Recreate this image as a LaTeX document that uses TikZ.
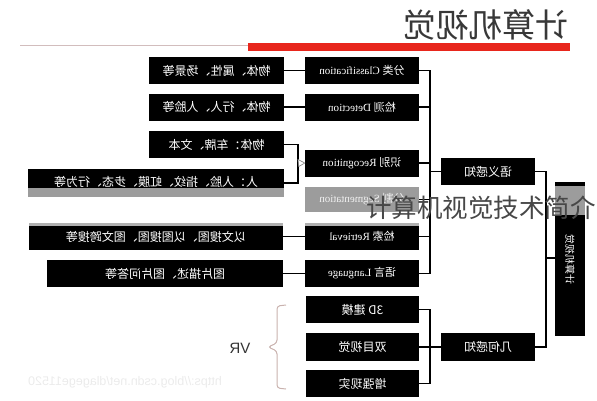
\documentclass[tikz,border=0pt]{standalone}
\usepackage{fontspec}
\setmainfont{Liberation Serif}
\newfontfamily\cjk{Noto Sans CJK SC}
\newfontfamily\sansf{Liberation Sans}
\newcommand\mir[1]{\scalebox{-1}[1]{#1}}
\definecolor{redbar}{HTML}{E8261C}
\definecolor{thinline}{HTML}{D2BDBD}
\definecolor{veil}{HTML}{9C9C9C}
\definecolor{bracecol}{HTML}{C9B2AE}
\begin{document}
\begin{tikzpicture}[x=1pt,y=-1pt,
  box/.style={fill=black,text=white,inner sep=0pt,minimum height=27pt,font=\fontsize{11}{13}\selectfont},
  desc/.style={box,font=\cjk\fontsize{12}{14}\selectfont},
  conn/.style={draw=black,line width=1.4pt},
  veilbox/.style={fill=veil,draw=none}]
\useasboundingbox (0,0) rectangle (597,400);
% title and rule
\node[font=\cjk\fontsize{33}{35}\selectfont,text=black!78,inner sep=0pt] (title) at (486,25) {\mir{计算机视觉}};
\draw[thinline,line width=1pt] (20,45.5) -- (250,45.5);
\fill[redbar] (248,43) rectangle (570,51);
% middle column
\node[box,minimum width=114pt] (cls) at (362,70.5) {\mir{{\cjk 分类} Classification}};
\node[box,minimum width=114pt] (det) at (362,107) {\mir{{\cjk 检测} Detection}};
\node[box,minimum width=114pt] (rec) at (362,163) {\mir{{\cjk 识别} Recognition}};
\node[box,minimum width=114pt,minimum height=25pt,fill=veil,text=white!85!veil] (seg) at (362,199.5) {\mir{{\cjk 分割} Segmentation}};
\node[box,minimum width=114pt] (ret) at (362,236.5) {\mir{{\cjk 检索} Retrieval}};
\node[box,minimum width=114pt] (lan) at (362,273.5) {\mir{{\cjk 语言} Language}};
% descriptions
\node[desc,minimum width=135pt] (d1) at (216.5,70.5) {\mir{物体、属性、场景等}};
\node[desc,minimum width=135pt] (d2) at (216.5,107) {\mir{物体、行人、人脸等}};
\node[desc,minimum width=135pt] (d3a) at (216.5,144.5) {\mir{物体：车牌、文本}};
\node[desc,minimum width=256pt,minimum height=28pt] (d3b) at (156,183) {\raisebox{4pt}{\mir{人：人脸、指纹、虹膜、步态、行为等}}};
\node[desc,minimum width=254pt] (d5) at (156,236.5) {\mir{以文搜图、以图搜图、图文跨搜等}};
\node[desc,minimum width=236pt] (d6) at (165,273.5) {\mir{图片描述、图片问答等}};
% geometric group
\node[desc,minimum width=113pt] (b3d) at (362.5,309.5) {\mir{3D 建模}};
\node[desc,minimum width=113pt,minimum height=28pt] (bino) at (362.5,347) {\mir{双目视觉}};
\node[desc,minimum width=113pt] (ar) at (362.5,383.5) {\mir{增强现实}};
% right column
\node[desc,minimum width=94pt] (sem) at (488,171.5) {\mir{语义感知}};
\node[desc,minimum width=94pt,minimum height=28pt] (geo) at (488,347) {\mir{几何感知}};
\node[box,minimum width=30pt,minimum height=154pt,font=\cjk\fontsize{10}{10}\selectfont] (cv) at (570,259) {\mir{\rotatebox{90}{计算机视觉}}};
% veil band
\fill[veil] (28,188) rectangle (284,197);
\fill[veil!80!white] (29,222.5) rectangle (283,226);
\fill[veil!80!white] (305,222.5) rectangle (419,226);
\fill[veil] (555,186) rectangle (585,215);
% connectors
\draw[conn] (d1.east) -- (cls.west);
\draw[conn] (d2.east) -- (det.west);
\draw[conn] (d5.east) -- (ret.west);
\draw[conn] (d6.east) -- (lan.west);
\coordinate (rb) at (298,163);
\draw[conn] (d3a.east) -| (rb) |- (d3b.east);
\draw[draw=gray,fill=white,line width=0.6pt] (rb) ++(0,-3.5) -- (rec.west) -- ++(-6,3.5) -- cycle;
\coordinate (m) at (430,171.5);
\draw[conn] (cls.east) -| (m) |- (lan.east);
\draw[conn] (det.east) -- (det.east -| m);
\draw[conn] (rec.east) -- (rec.east -| m);
\draw[conn] (seg.east) -- (seg.east -| m);
\draw[conn] (ret.east) -- (ret.east -| m);
\draw[conn] (m) -- (sem.west);
\coordinate (g) at (430,347);
\draw[conn] (b3d.east) -| (g) |- (ar.east);
\draw[conn] (bino.east) -- (geo.west);
\coordinate (r) at (546,258);
\draw[conn] (sem.east) -| (r) |- (geo.east);
\draw[conn] (r) -- (r -| cv.west);
% VR brace
\draw[bracecol,line width=1pt,rounded corners=3pt] (286,305) -- (277,306) -- (277,343) -- (268,347) -- (277,351) -- (277,388) -- (286,389);
\node[font=\sansf\fontsize{15}{17}\selectfont,text=black!80,inner sep=0pt] (vr) at (240,348) {\mir{VR}};
% watermark
\node[font=\sansf\fontsize{12.5}{14}\selectfont,text=black!8,inner sep=0pt] (wm) at (125,382) {\mir{https://blog.csdn.net/dlagege11520}};
% overlay caption
\node[font=\cjk\fontsize{25.5}{27}\selectfont,text=black!72,inner sep=0pt,anchor=west] (cap) at (366,208) {计算机视觉技术简介};
\end{tikzpicture}
\end{document}
